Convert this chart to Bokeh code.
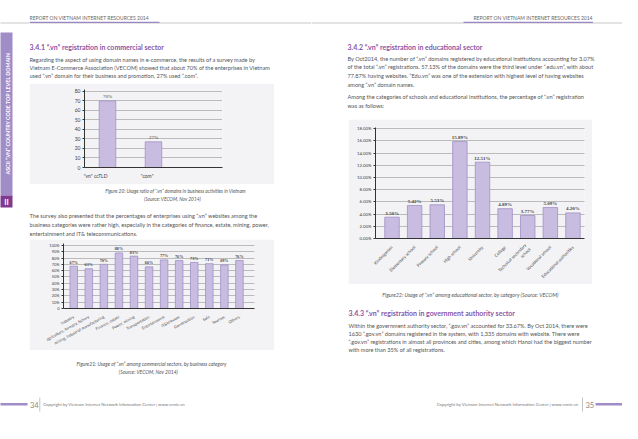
import math
from bokeh.plotting import figure
from bokeh.layouts import row, column
from bokeh.models import Range1d, Label, BoxAnnotation, ColumnDataSource, FixedTicker, LabelSet
from bokeh.embed import file_html
from bokeh.resources import INLINE

# ---------------- data ----------------
c1_cats = ['"vn" ccTLD', '"com"']
c1_vals = [70, 27]
c1_ticks = [0, 10, 20, 30, 40, 50, 60, 70, 80]

c2_cats = ["Industry", "agriculture, forestry, fishery", "mining, industrial manufacturing",
           "Finance, estate", "Power, mining", "Transportation", "Entertainment",
           "IT&telecom", "Construction", "Sale", "Tourism", "Others"]
c2_vals = [67, 63, 70, 88, 83, 66, 77, 76, 73, 71, 69, 76]
c2_ticks = [0, 10, 20, 30, 40, 50, 60, 70, 80, 90, 100]
c2_tick_labels = ["0", "10%", "20%", "30%", "40%", "50%", "60%", "70%", "80%", "90%", "100%"]

c3_cats = ["Kindergarten", "Elementary school", "Primary school", "High school", "University",
           "College", "Technical secondary\nschool", "Vocational school", "Educational authorities"]
c3_vals = [3.50, 5.42, 5.53, 15.89, 12.51, 4.89, 3.77, 5.09, 4.20]
c3_ticks = [0, 2, 4, 6, 8, 10, 12, 14, 16, 18]
c3_tick_labels = ["0.00%", "2.00%", "4.00%", "6.00%", "8.00%", "10.00%", "12.00%",
                  "14.00%", "16.00%", "18.00%"]

# ---------------- styles ----------------
FONT = "Lato"
BODY = "#555555"
PURPLE = "#8a55a6"
STRIP = "#a08cc6"
STRIP_DARK = "#7d3a8e"
BAR_FILL = "#c8bce0"
BAR_LINE = "#a190c6"
BOX_BG = "#f3f3f6"
AXIS = "#333333"
GRID = "#666666"


class Canvas:
    def __init__(self, x0, y0, w, h):
        self.x0, self.y0 = x0, y0
        p = figure(width=w, height=h, x_range=Range1d(0, w), y_range=Range1d(h, 0),
                   toolbar_location=None, output_backend="svg", x_axis_type=None,
                   y_axis_type=None, min_border=0, outline_line_color=None,
                   background_fill_color="white", border_fill_color="white")
        p.grid.visible = False
        self.p = p

    def text(self, x, y, s, size, color=BODY, bold=False, italic=False, align="left",
             baseline="middle", angle=0.0):
        style = "bold italic" if (bold and italic) else "bold" if bold else "italic" if italic else "normal"
        self.p.add_layout(Label(x=x - self.x0, y=y - self.y0, text=s, text_font=FONT,
                                text_font_size=f"{size}px", text_color=color,
                                text_font_style=style, text_align=align,
                                text_baseline=baseline, angle=angle))

    def box(self, x1, y1, x2, y2, color):
        self.p.add_layout(BoxAnnotation(left=x1 - self.x0, right=x2 - self.x0,
                                        top=y1 - self.y0, bottom=y2 - self.y0,
                                        fill_color=color, fill_alpha=1.0, line_alpha=0.0))


def bar_chart(w, h, cats, vals, labels, xr, yr, ticks, tick_labels, borders,
              orient, lab_size, lab_bold, cat_size, bar_w):
    p = figure(width=w, height=h, x_range=Range1d(*xr), y_range=Range1d(*yr),
               toolbar_location=None, output_backend="svg",
               min_border_left=borders[0], min_border_right=borders[1],
               min_border_top=borders[2], min_border_bottom=borders[3],
               background_fill_color=BOX_BG, border_fill_color=BOX_BG,
               outline_line_color=None)
    xs = [i + 0.5 for i in range(len(cats))]
    src = ColumnDataSource(dict(x=xs, top=vals, lab=labels))
    p.vbar(x="x", top="top", width=bar_w, source=src, fill_color=BAR_FILL,
           line_color=BAR_LINE, line_width=0.8)
    p.add_layout(LabelSet(x="x", y="top", text="lab", source=src, text_align="center",
                          text_baseline="bottom", y_offset=1.5, text_font=FONT,
                          text_font_size=f"{lab_size}px",
                          text_font_style="bold" if lab_bold else "normal",
                          text_color="#444444"))
    p.xaxis.ticker = FixedTicker(ticks=xs)
    p.xaxis.major_label_overrides = {x: c for x, c in zip(xs, cats)}
    p.xaxis.major_label_orientation = orient
    p.yaxis.ticker = FixedTicker(ticks=ticks)
    p.yaxis.major_label_overrides = {t: s for t, s in zip(ticks, tick_labels)}
    for ax in (p.xaxis[0], p.yaxis[0]):
        ax.axis_line_color = AXIS
        ax.axis_line_width = 1
        ax.minor_tick_line_color = None
        ax.major_label_text_font = FONT
        ax.major_label_text_color = "#444444"
        ax.major_label_standoff = 2
    p.xaxis.major_label_text_font_size = f"{cat_size}px"
    p.yaxis.major_label_text_font_size = f"{cat_size}px"
    p.xaxis.major_tick_line_color = None
    p.yaxis.major_tick_out = 2
    p.yaxis.major_tick_in = 0
    p.yaxis.major_tick_line_color = AXIS
    p.xgrid.visible = False
    p.ygrid.grid_line_color = GRID
    p.ygrid.grid_line_dash = "1 1"
    p.ygrid.grid_line_width = 0.8
    return p


HEADER = "REPORT ON VIETNAM INTERNET RESOURCES 2014"
FOOT = "Copyright by Vietnam Internet Network Information Center | www.vnnic.vn"
PSIZE = 5.6

# ---------------- left page ----------------
strip = Canvas(8, 8, 29, 423)
strip.box(0, 30, 37, 31, "#c8c8c8")
strip.box(0, 40, 20, 203, STRIP)
strip.box(0, 203, 20, 215, STRIP_DARK)
strip.text(14, 209.5, "II", 7.5, "white", bold=True, align="center")
strip.text(15, 121, "ASCII \u201c.VN\u201d COUNTRY CODE TOP LEVEL DOMAIN", 5.3, "white",
           bold=True, align="center", angle=math.pi / 2)
strip.box(0, 410.5, 35, 413, STRIP)

topL = Canvas(37, 8, 282, 83)
topL.box(37, 30, 319, 31, "#c8c8c8")
topL.box(37, 29.3, 167, 30.5, "#9c86c4")
topL.text(37, 25.5, HEADER, 5.0, "#666666")
topL.text(37, 54, "3.4.1 \u201c.vn\u201d registration in commercial sector", 7.0, PURPLE, bold=True)
paraL1 = ["Regarding the aspect of using domain names in e-commerce, the results of a survey made by",
          "Vietnam E-Commerce Association (VECOM) showed that about 70% of the enterprises in Vietnam",
          "used \u201c.vn\u201d domain for their business and promotion, 27% used \u201c.com\u201d."]
for i, s in enumerate(paraL1):
    topL.text(37, 66.5 + 8.3 * i, s, PSIZE)

c1 = bar_chart(245, 101, c1_cats, c1_vals, [f"{v}%" for v in c1_vals], (0, 3), (0, 82),
               c1_ticks, [str(t) for t in c1_ticks], (55, 52, 6, 12), 0, 5.0, False, 5.0, 0.36)
blank1 = Canvas(282, 91, 37, 101)

midL = Canvas(37, 192, 282, 55)
midL.text(183, 198, "Figure 20: Usage ratio of \u201c.vn\u201d domains in business activities in Vietnam",
          4.8, BODY, italic=True, align="center")
midL.text(180, 206, "(Source: VECOM, Nov 2014)", 4.8, BODY, italic=True, align="center")
paraL2 = ["The survey also presented that the percentages of enterprises using \u201c.vn\u201d websites among the",
          "business categories were rather high, especially in the categories of finance, estate, mining, power,",
          "entertainment and IT& telecommunications."]
for i, s in enumerate(paraL2):
    midL.text(37, 222.5 + 9 * i, s, PSIZE)

c2 = bar_chart(245, 111, c2_cats, c2_vals, [f"{v}%" for v in c2_vals], (-0.18, 12.5), (0, 103),
               c2_ticks, c2_tick_labels, (34, 20, 4, 36), 0.5, 4.2, True, 4.0, 0.5)
blank2 = Canvas(282, 247, 37, 111)

botL = Canvas(37, 358, 282, 73)
botL.text(159, 371.7, "Figure21: Usage of \u201c.vn\u201d among commercial sectors, by business category",
          5.0, BODY, italic=True, align="center")
botL.text(156, 379.5, "(Source: VECOM, Nov 2014)", 5.0, BODY, italic=True, align="center")
botL.text(37.5, 412, "34", 7.5, "#8a8a8a")
botL.box(47, 405, 47.7, 419, "#aaaaaa")
botL.text(50.7, 412, FOOT, 4.3, "#777777")

# ---------------- right page ----------------
topR = Canvas(319, 8, 311, 119)
topR.box(319, 30, 630, 31, "#c8c8c8")
topR.box(471, 29.3, 600.5, 30.5, "#9c86c4")
topR.text(600.5, 25.5, HEADER, 5.0, "#666666", align="right")
topR.text(355, 54, "3.4.2 \u201c.vn\u201d registration in educational sector", 7.0, PURPLE, bold=True)
paraR1 = ["By Oct2014, the number of \u201c.vn\u201d domains registered by educational institutions accounting for 3.07%",
          "of the total \u201c.vn\u201d registrations. 57.13% of the domains were the third level under \u201c.edu.vn\u201d, with about",
          "77.87% having websites. \u201cEdu.vn\u201d was one of the extension with highest level of having websites",
          "among \u201c.vn\u201d domain names."]
for i, s in enumerate(paraR1):
    topR.text(355, 65.7 + 8.7 * i, s, PSIZE)
paraR2 = ["Among the categories of schools and educational institutions, the percentage of \u201c.vn\u201d registration",
          "was as follows:"]
for i, s in enumerate(paraR2):
    topR.text(355, 104 + 9 * i, s, PSIZE)

blankR1 = Canvas(319, 127, 37, 165)
c3 = bar_chart(244, 165, c3_cats, c3_vals, [f"{v:.2f}%" for v in c3_vals], (-0.23, 9.01), (0, 18.2),
               c3_ticks, c3_tick_labels, (27, 8, 8, 46), math.pi / 4, 5.0, True, 4.3, 0.64)
blankR2 = Canvas(600, 127, 30, 165)

botR = Canvas(319, 292, 311, 139)
botR.text(478, 302.7, "Figure22: Usage of \u201c.vn\u201d among educational sector, by category (Source: VECOM)",
          5.3, BODY, italic=True, align="center")
botR.text(356, 320.7, "3.4.3 \u201c.vn\u201d registration in government authority sector", 7.0, PURPLE, bold=True)
paraR3 = ["Within the government authority sector, \u201c.gov.vn\u201d accounted for 33.67%. By Oct 2014, there were",
          "1630 \u201c.gov.vn\u201d domains registered in the system, with 1,335 domains with website. There were",
          "\u201c.gov.vn\u201d registrations in almost all provinces and cities, among which Hanoi had the biggest number",
          "with more than 35% of all registrations."]
for i, s in enumerate(paraR3):
    botR.text(356, 332.7 + 8.2 * i, s, PSIZE)
botR.text(586, 412, FOOT, 4.3, "#777777", align="right")
botR.box(589.5, 405, 590.2, 419, "#aaaaaa")
botR.text(593, 412, "35", 7.5, "#8a8a8a")
botR.box(603, 410.5, 630, 413, STRIP)

left = row(strip.p, column(topL.p, row(c1, blank1.p), midL.p, row(c2, blank2.p), botL.p))
right = column(topR.p, row(blankR1.p, c3, blankR2.p), botR.p)
page = row(left, right)

open("out.html", "w").write(file_html(page, INLINE))
